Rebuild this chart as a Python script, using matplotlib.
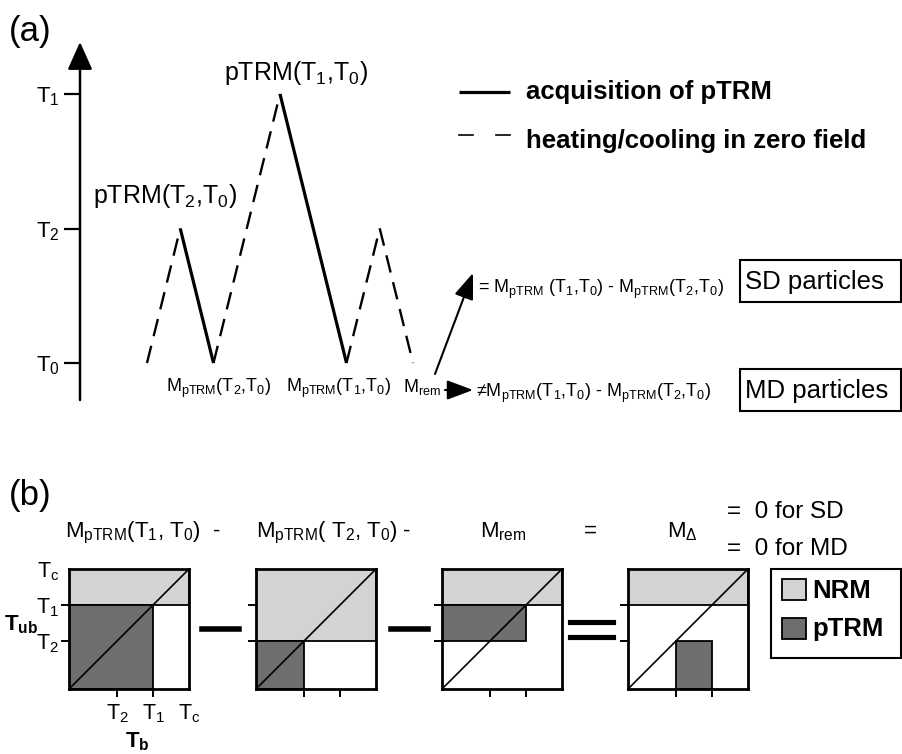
import matplotlib
matplotlib.use('Agg')
import matplotlib.pyplot as plt
from matplotlib.patches import Rectangle
import numpy as np

plt.rcParams['font.family'] = ['Liberation Sans', 'DejaVu Sans']
plt.rcParams['mathtext.fontset'] = 'custom'
plt.rcParams['mathtext.rm'] = 'Liberation Sans'
plt.rcParams['mathtext.it'] = 'Liberation Sans'
plt.rcParams['mathtext.bf'] = 'Liberation Sans:bold'

# ---------------- data ----------------
# (a) thermal treatment: temperature levels and the sequence of steps
temp_levels = [0, 1, 2]                       # T0, T2, T1
temp_labels = ['T$_0$', 'T$_2$', 'T$_1$']
step_temps = [0, 1, 0, 2, 0, 1, 0]            # level reached after each step
step_in_field = [False, True, False, True, False, False]  # True = pTRM acquisition
peak_labels = ['pTRM(T$_2$,T$_0$)', 'pTRM(T$_1$,T$_0$)']
valley_labels = ['M$_{\\rm pTRM}$(T$_2$,T$_0$)', 'M$_{\\rm pTRM}$(T$_1$,T$_0$)', 'M$_{\\rm rem}$']

# (b) blocking (Tb) / unblocking (Tub) temperatures, normalised to Tc
T2, T1, Tc = 0.4, 0.7, 1.0
panel_titles = ['M$_{\\rm pTRM}$(T$_1$, T$_0$)', 'M$_{\\rm pTRM}$( T$_2$, T$_0$)',
                'M$_{\\rm rem}$', 'M$_{\\Delta}$']
# rectangles (Tb from, Tb to, Tub from, Tub to)
panel_nrm = [(0, Tc, T1, Tc), (0, Tc, T2, Tc), (0, Tc, T1, Tc), (0, Tc, T1, Tc)]
panel_ptrm = [(0, T1, 0, T1), (0, T2, 0, T2), (0, T1, T2, T1), (T2, T1, 0, T2)]

nrm_color = '#d2d3d5'
ptrm_color = '#6d6e70'

W, H = 902, 754


def px_rect(x0, y0, x1, y1):
    return [x0 / W, 1 - y1 / H, (x1 - x0) / W, (y1 - y0) / H]


fig = plt.figure(figsize=(W / 100, H / 100), dpi=100)

# canvas in pixel coordinates for the free text
ax = fig.add_axes([0, 0, 1, 1])
ax.set_xlim(0, W)
ax.set_ylim(H, 0)
ax.axis('off')

# ---------------- (a) ----------------
ax.text(9, 32, '(a)', fontsize=25, ha='left', va='center')

x_steps = np.concatenate([[0], np.cumsum(np.abs(np.diff(step_temps)))])
px_per_x, px_per_T = 33.25, 134.5
left, right, top, bottom = 80, 440, 42, 400
ax_a = fig.add_axes(px_rect(left, top, right, bottom))
ax_a.set_xlim((left - 147) / px_per_x, (right - 147) / px_per_x)
ax_a.set_ylim((363 - bottom) / px_per_T, (363 - top) / px_per_T)
ax_a.patch.set_alpha(0)
for s in ax_a.spines.values():
    s.set_visible(False)
ax_a.set_xticks([])
ax_a.set_yticks(temp_levels)
ax_a.set_yticklabels(temp_labels, fontsize=16)
ax_a.tick_params(axis='y', direction='out', length=11.5, width=1.6, pad=3)
ax_a.annotate('', xy=(0, 1), xytext=(0, 0), xycoords='axes fraction',
              arrowprops=dict(arrowstyle='-|>,head_length=0.85,head_width=0.38',
                              mutation_scale=20, lw=1.8, color='k',
                              shrinkA=0, shrinkB=0))

for i, field in enumerate(step_in_field):
    xs = x_steps[i:i + 2]
    ts = step_temps[i:i + 2]
    if field:
        ax_a.plot(xs, ts, color='k', lw=2.3, solid_capstyle='butt')
    else:
        ax_a.plot(xs, ts, color='k', lw=1.7, dashes=(7.5, 4.2))

peaks = [i for i in range(1, len(step_temps) - 1)
         if step_temps[i] > step_temps[i - 1] and step_in_field[i]]
for lab, i, off in zip(peak_labels, peaks, [(-11, 13), (11.5, 5)]):
    ax_a.annotate(lab, xy=(x_steps[i], step_temps[i]), xytext=off,
                  textcoords='offset points', ha='center', va='bottom', fontsize=18)

valleys = [i for i in range(2, len(step_temps)) if step_temps[i] == 0]
for lab, i, dx in zip(valley_labels, valleys, [3.6, -5.8, 6.5]):
    ax_a.annotate(lab, xy=(x_steps[i], step_temps[i]), xytext=(dx, -10),
                  textcoords='offset points', ha='center', va='top', fontsize=13)

# legend of part (a)
ax.plot([459, 510], [92, 92], color='k', lw=2.3, solid_capstyle='butt')
ax.plot([459, 473], [135, 135], color='k', lw=1.2)
ax.plot([496, 510], [135, 135], color='k', lw=1.2)
ax.text(526, 99, 'acquisition of pTRM', fontsize=18.5, fontweight='bold', va='baseline')
ax.text(526, 148, 'heating/cooling in zero field', fontsize=18.5, fontweight='bold',
        va='baseline')

# arrows from M_rem
arrow_kw = dict(arrowstyle='-|>,head_length=0.8,head_width=0.3', mutation_scale=20,
                lw=1.5, color='k', shrinkA=0, shrinkB=0)
ax.annotate('', xy=(473, 273), xytext=(435, 374), arrowprops=arrow_kw)
ax.annotate('', xy=(473, 390), xytext=(445, 390), arrowprops=arrow_kw)
ax.text(478, 293, '= M$_{\\rm pTRM}$ (T$_1$,T$_0$) - M$_{\\rm pTRM}$(T$_2$,T$_0$)',
        fontsize=13, va='baseline')
ax.text(476, 397, '\u2260M$_{\\rm pTRM}$(T$_1$,T$_0$) - M$_{\\rm pTRM}$(T$_2$,T$_0$)',
        fontsize=13, va='baseline')

for y0, lab in [(260, 'SD particles'), (369, 'MD particles')]:
    ax.add_patch(Rectangle((740, y0), 161, 42, fc='none', ec='k', lw=1.5))
    ax.text(745, y0 + 29, lab, fontsize=18.5, va='baseline')

# ---------------- (b) ----------------
ax.text(9, 496, '(b)', fontsize=25, ha='left', va='center')

panel_x = [69, 256, 442, 628]
py0, py1, pw = 569, 689, 120
title_x = [65, 256, 480, 667]
for k, (px0, nrm, ptrm) in enumerate(zip(panel_x, panel_nrm, panel_ptrm)):
    axp = fig.add_axes(px_rect(px0, py0, px0 + pw, py1))
    axp.set_xlim(0, Tc)
    axp.set_ylim(0, Tc)
    for rect, fc in [(nrm, nrm_color), (ptrm, ptrm_color)]:
        axp.add_patch(Rectangle((rect[0], rect[2]), rect[1] - rect[0], rect[3] - rect[2],
                                fc=fc, ec='k', lw=1.3))
    axp.plot([0, Tc], [0, Tc], color='k', lw=1.2)
    for s in axp.spines.values():
        s.set_linewidth(2.0)
        s.set_zorder(5)
    axp.tick_params(direction='out', length=5.5, width=1.4, labelsize=15.5, pad=1.5)
    if k == 0:
        axp.set_xticks([T2, T1, Tc])
        axp.set_xticklabels(['T$_2$', 'T$_1$', 'T$_c$'])
        axp.set_yticks([T2, T1, Tc])
        axp.set_yticklabels(['T$_2$', 'T$_1$', 'T$_c$'])
        axp.xaxis.get_major_ticks()[2].tick1line.set_visible(False)
        axp.yaxis.get_major_ticks()[2].tick1line.set_visible(False)
        axp.tick_params(axis='x', pad=4)
    else:
        axp.set_xticks([T2, T1])
        axp.set_yticks([T2, T1])
        axp.set_xticklabels([])
        axp.set_yticklabels([])
    ax.text(title_x[k], 537, panel_titles[k], fontsize=16, va='baseline')

ax.text(217, 537, '-', fontsize=16, ha='center', va='baseline')
ax.text(407, 537, '-', fontsize=16, ha='center', va='baseline')
ax.text(590, 537, '=', fontsize=16, ha='center', va='baseline')
ax.text(727, 518, '=  0 for SD', fontsize=17.5, va='baseline')
ax.text(727, 555, '=  0 for MD', fontsize=17.5, va='baseline')

# operators between the panels
ax.plot([202, 239], [629, 629], color='k', lw=4)
ax.plot([391, 428], [629, 629], color='k', lw=4)
ax.plot([570, 613], [622, 622], color='k', lw=3.7)
ax.plot([570, 613], [637, 637], color='k', lw=3.7)

ax.text(21, 625, '$\\mathbf{T}_{\\mathbf{ub}}$', fontsize=16, ha='center', va='center')
ax.text(137, 753, '$\\mathbf{T}_{\\mathbf{b}}$', fontsize=16, ha='center', va='bottom')

# legend of part (b)
ax.add_patch(Rectangle((771, 569), 130, 89, fc='white', ec='k', lw=1.5))
for y0, fc, lab, yb in [(579, nrm_color, 'NRM', 598), (618, ptrm_color, 'pTRM', 636)]:
    ax.add_patch(Rectangle((782, y0), 24, 21, fc=fc, ec='k', lw=1.3))
    ax.text(812, yb, lab, fontsize=18.5, fontweight='bold', va='baseline')

fig.savefig('out.png', dpi=100)
